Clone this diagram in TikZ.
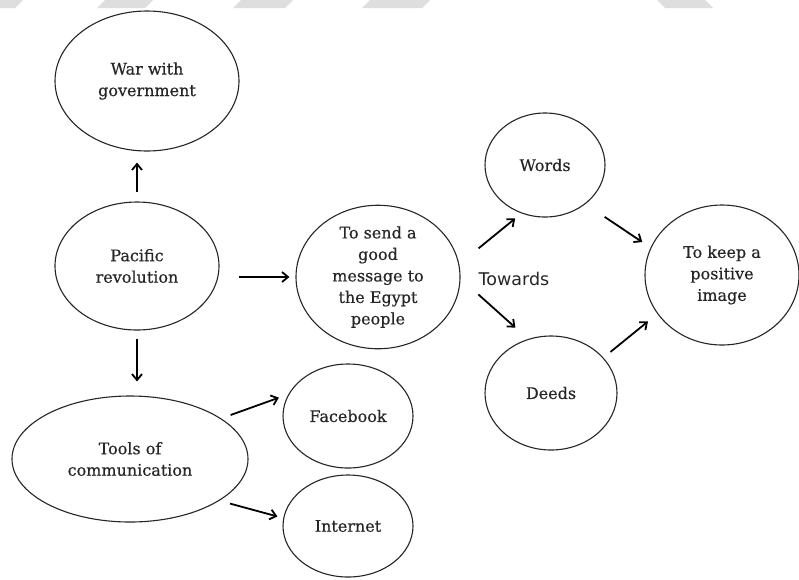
\documentclass[tikz,border=0pt]{standalone}
\usepackage{fontspec}
\setmainfont[FakeBold=0.4]{DejaVu Serif}
\newfontfamily\labelsans{DejaVu Sans}
\usetikzlibrary{shapes.geometric,arrows.meta}

\tikzset{
  bubble/.style={ellipse, draw=black!85, line width=1.1pt, inner sep=0pt,
    align=center, font=\fontsize{16}{21.5}\selectfont, text=black!85},
  arr/.style={line width=1.8pt, -{Straight Barb[length=6pt,width=10pt,line width=1.8pt]}},
  band/.style={fill=black!13, draw=none}
}

\begin{document}
\begin{tikzpicture}[x=1pt,y=-1pt]
  \useasboundingbox (0,0) rectangle (799,579);
  \fill[white] (0,0) rectangle (799,579);

  % grey banner strips along the top edge
  \fill[band] (0,0) -- (23,0) -- (15,8) -- (0,8) -- cycle;
  \fill[band] (105,0) -- (153,0) -- (145,8) -- (97,8) -- cycle;
  \fill[band] (241,0) -- (293,0) -- (285,8) -- (233,8) -- cycle;
  \fill[band] (370,0) -- (430,0) -- (422,8) -- (362,8) -- cycle;
  \fill[band] (657,0) -- (705,0) -- (713,8) -- (665,8) -- cycle;

  % ideas
  \node[bubble, minimum width=184pt, minimum height=140pt] (war) at (147,81) {War with\\government};
  \node[bubble, minimum width=164pt, minimum height=128pt] (pac) at (137,266) {Pacific\\revolution};
  \node[bubble, minimum width=236pt, minimum height=126pt] (tools) at (130,459) {Tools of\\communication};
  \node[bubble, minimum width=130pt, minimum height=104pt] (fb) at (348,416) {Facebook};
  \node[bubble, minimum width=130pt, minimum height=102pt] (net) at (348,526) {Internet};
  \node[bubble, minimum width=164pt, minimum height=140pt] (msg) at (378,277) {To send a\\good\\message to\\the Egypt\\people};
  \node[bubble, minimum width=120pt, minimum height=104pt] (words) at (545,165) {Words};
  \node[bubble, minimum width=132pt, minimum height=114pt] (deeds) at (551,393) {Deeds};
  \node[bubble, minimum width=154pt, minimum height=140pt] (keep) at (722,275) {To keep a\\positive\\image};
  \node[font=\labelsans\fontsize{17.5}{20}\selectfont, text=black!85] (towards) at (514,279) {Towards};

  % links
  \draw[arr, shorten <=9pt, shorten >=11pt] (pac.north) -- (pac.north |- war.south);
  \draw[arr, shorten <=19pt, shorten >=6pt] (pac.east |- msg.west) -- (msg.west);
  \draw[arr, shorten <=8pt, shorten >=14pt] (pac.south) -- (pac.south |- tools.north);
  \draw[arr, shorten <=10pt, shorten >=10pt] (tools.24) -- (fb.160);
  \draw[arr, shorten <=11pt, shorten >=6pt] (tools.-25.5) -- (net.173);
  \draw[arr, shorten <=25pt, shorten >=8pt] (msg.9) -- (words.244);
  \draw[arr, shorten <=24pt, shorten >=17pt] (msg.-1.4) -- (deeds.113);
  \draw[arr, shorten <=23pt, shorten >=10pt] (words.-44) -- (keep.159);
  \draw[arr, shorten <=9pt, shorten >=12pt] (deeds.34) -- (keep.211);
\end{tikzpicture}
\end{document}
